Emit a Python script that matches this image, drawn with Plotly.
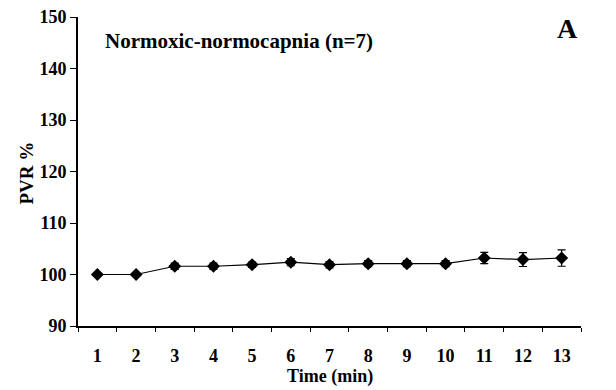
import plotly.graph_objects as go

times = ["1", "2", "3", "4", "5", "6", "7", "8", "9", "10", "11", "12", "13"]
pvr = [100.0, 100.0, 101.6, 101.6, 101.9, 102.4, 101.9, 102.1, 102.1, 102.1, 103.2, 102.9, 103.2]
sem = [0.0, 0.3, 0.6, 0.6, 0.5, 0.7, 0.6, 0.6, 0.6, 0.6, 1.1, 1.35, 1.6]
y_ticks = [90, 100, 110, 120, 130, 140, 150]

FONT = "Liberation Serif"

fig = go.Figure()
fig.add_trace(go.Scatter(
    x=times, y=pvr, mode="lines+markers",
    line=dict(color="black", width=1.2),
    marker=dict(symbol="diamond", size=10, color="black"),
    error_y=dict(type="data", array=sem, visible=True, color="black", thickness=1.2, width=4),
    showlegend=False,
))

fig.update_layout(
    width=616, height=390,
    margin=dict(l=78, r=35, t=17, b=64),
    paper_bgcolor="white", plot_bgcolor="white",
    font=dict(family=FONT, color="black"),
    xaxis=dict(
        type="category", tickson="boundaries", automargin=False,
        showline=True, linecolor="black", linewidth=2,
        ticks="outside", ticklen=4, tickcolor="black", tickwidth=1,
        tickfont=dict(family=FONT, size=18, color="black"),
        ticklabelstandoff=12,
        showgrid=False, zeroline=False,
        range=[-0.5, 12.5],
    ),
    yaxis=dict(
        range=[90, 150], tickvals=y_ticks, automargin=False,
        showline=True, linecolor="black", linewidth=2,
        ticks="outside", ticklen=6, tickcolor="black", tickwidth=1,
        tickfont=dict(family=FONT, size=18, color="black"),
        showgrid=False, zeroline=False,
    ),
    annotations=[
        dict(text="<b>Time (min)</b>", xref="paper", yref="paper",
             x=0.5, y=-0.165, xanchor="center", yanchor="middle", showarrow=False,
             font=dict(family=FONT, size=18, color="black")),
        dict(text="<b>PVR %</b>", xref="paper", yref="paper",
             x=-0.103, y=0.494, xanchor="center", yanchor="middle", showarrow=False,
             textangle=-90, font=dict(family=FONT, size=19, color="black")),
        dict(text="<b>Normoxic-normocapnia (n=7)</b>", xref="paper", yref="paper",
             x=0.05, y=0.922, xanchor="left", yanchor="middle", showarrow=False,
             font=dict(family=FONT, size=21, color="black")),
        dict(text="<b>A</b>", xref="paper", yref="paper",
             x=0.974, y=0.964, xanchor="center", yanchor="middle", showarrow=False,
             font=dict(family=FONT, size=28, color="black")),
    ],
)
fig.update_xaxes(ticktext=["<b>%s</b>" % t for t in times], tickvals=times)
fig.update_yaxes(ticktext=["<b>%d</b>" % v for v in y_ticks])

fig.write_html("out.html", config={"displayModeBar": False},
               post_script="document.body.style.margin='0';")
